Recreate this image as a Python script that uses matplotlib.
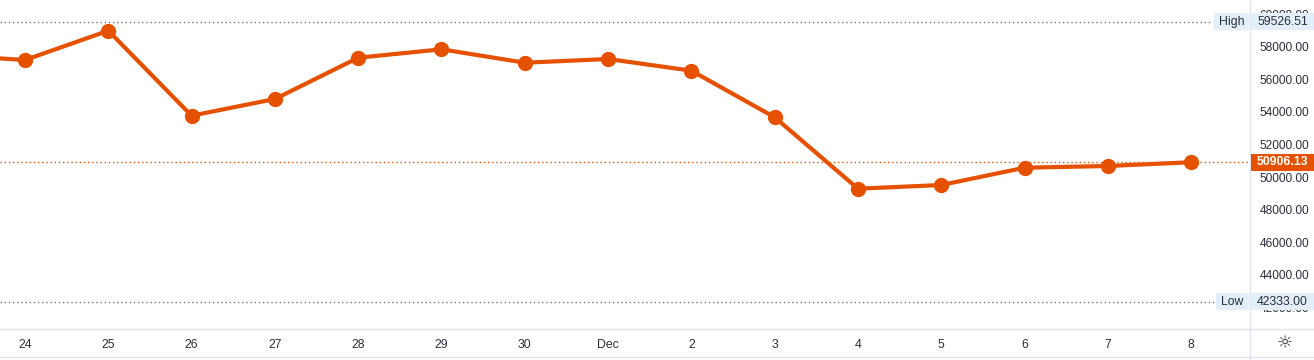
import numpy as np
import matplotlib.pyplot as plt
import matplotlib.transforms as mtransforms
from matplotlib.patches import Rectangle
from matplotlib.lines import Line2D

# daily closes, 23 Nov .. 8 Dec
days = ['23', '24', '25', '26', '27', '28', '29', '30', 'Dec',
        '2', '3', '4', '5', '6', '7', '8']
closes = [57500, 57178, 58976, 53761, 54785, 57319, 57834, 57012, 57239,
          56522, 53663, 49282, 49509, 50571, 50675, 50906.13]
high_val = 59526.51
low_val = 42333.00
y_ticks = [42000, 44000, 46000, 48000, 50000, 52000, 54000, 56000, 58000, 60000]

W, H = 1314, 360
orange = '#e65100'
text_col = '#2a2e39'
label_bg = '#e3eefb'
plt.rcParams['font.family'] = ['Liberation Sans', 'DejaVu Sans']

fig = plt.figure(figsize=(W / 100, H / 100), dpi=100)
ax = fig.add_axes([0, 31 / H, 1250 / W, 329 / H])

x = np.arange(len(closes))
ax.plot(x, closes, color=orange, lw=3, marker='o', ms=10, zorder=3)

ax.set_xlim(0.7, 15.706)
ax.set_ylim(40675, 60859)
ax.set_xticks(x[1:])
ax.set_xticklabels(days[1:])
ax.set_yticks(y_ticks)
ax.set_yticklabels([f'{v:.2f}' for v in y_ticks])
ax.yaxis.tick_right()
ax.tick_params(axis='x', length=0, pad=7, labelsize=8.8, labelcolor=text_col)
ax.tick_params(axis='y', length=0, pad=7, labelsize=8.6, labelcolor=text_col)
for s in ax.spines.values():
    s.set_visible(False)

# price lines
ax.axhline(high_val, xmin=0, xmax=1212 / 1250, color='#6f7280', lw=1, ls=(0, (1, 2)))
ax.axhline(low_val, xmin=0, xmax=1214 / 1250, color='#6f7280', lw=1, ls=(0, (1, 2)))
ax.axhline(closes[-1], color=orange, lw=1, ls=(0, (1, 2)))

# frame lines of the scales
axc = '#e0e3eb'
fig.add_artist(Line2D([0, 1], [31 / H, 31 / H], color=axc, lw=1))
fig.add_artist(Line2D([0, 1], [3 / H, 3 / H], color=axc, lw=1))
fig.add_artist(Line2D([1250 / W, 1250 / W], [0, 1], color=axc, lw=1))

# labels on the price scale
tr = mtransforms.blended_transform_factory(fig.transFigure, ax.transData)
px = (60859 - 40675) / 329.0


def price_label(val, name, bg, fg, bold=False, name_x0=None):
    h = 17 * px
    fig.add_artist(Rectangle((1251 / W, val - h / 2), 63 / W, h, transform=tr,
                             facecolor=bg, edgecolor='none', zorder=5))
    fig.add_artist(plt.Text(1308 / W, val, f'{val:.2f}', transform=tr, ha='right',
                            va='center', fontsize=8.8, color=fg,
                            fontweight='bold' if bold else 'normal', zorder=6))
    if name:
        fig.add_artist(Rectangle((name_x0 / W, val - h / 2), (1249 - name_x0) / W, h,
                                 transform=tr, facecolor=bg, edgecolor='none', zorder=5))
        fig.add_artist(plt.Text((name_x0 + 1249) / 2 / W, val, name, transform=tr,
                                ha='center', va='center', fontsize=8.8, color=text_col,
                                zorder=6))


price_label(high_val, 'High', label_bg, text_col, name_x0=1214)
price_label(low_val, 'Low', label_bg, text_col, name_x0=1216)
price_label(closes[-1], None, orange, 'white', bold=True)

# settings icon
fig.text(1285 / W, 1 - 343 / H, '\u263c', family='DejaVu Sans', fontsize=13,
         color=text_col, ha='center', va='center')

fig.savefig('out.png', dpi=100, facecolor='white')
